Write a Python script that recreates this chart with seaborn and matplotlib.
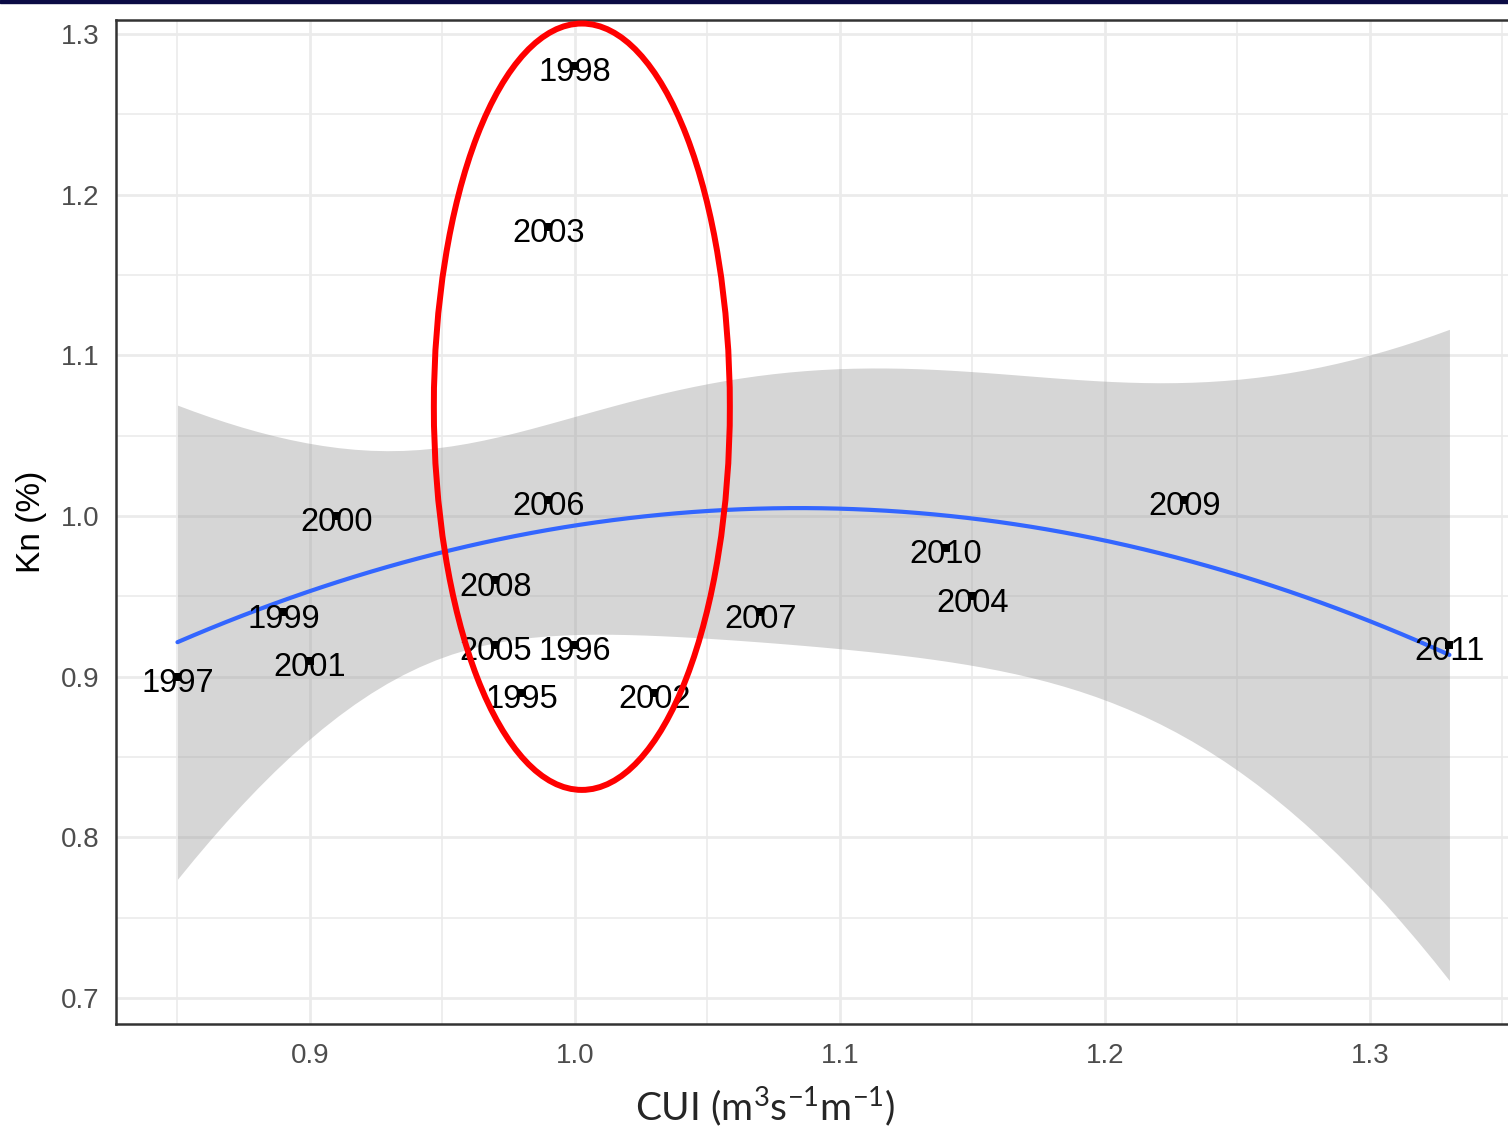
import numpy as np
import pandas as pd
import matplotlib
matplotlib.use("Agg")
import matplotlib.pyplot as plt
import seaborn as sns
from matplotlib.patches import Ellipse, Rectangle

# ---------------- data ----------------
years = ["1995", "1996", "1997", "1998", "1999", "2000", "2001", "2002", "2003",
         "2004", "2005", "2006", "2007", "2008", "2009", "2010", "2011"]
cui = [0.98, 1.00, 0.85, 1.00, 0.89, 0.91, 0.90, 1.03, 0.99,
       1.15, 0.97, 0.99, 1.07, 0.97, 1.23, 1.14, 1.33]
kn = [0.89, 0.92, 0.90, 1.28, 0.94, 1.00, 0.91, 0.89, 1.18,
      0.95, 0.92, 1.01, 0.94, 0.96, 1.01, 0.98, 0.92]
x_ticks = [0.9, 1.0, 1.1, 1.2, 1.3]
y_ticks = [0.7, 0.8, 0.9, 1.0, 1.1, 1.2, 1.3]

df = pd.DataFrame({"year": years, "cui": cui, "kn": kn})


# ---------------- quadratic least-squares smooth with 95% CI ----------------
def t_quant(p, dof):
    try:
        from scipy.stats import t as tdist
        return tdist.ppf(p, dof)
    except Exception:
        z = 1.959963984540054
        return (z + (z ** 3 + z) / (4 * dof)
                + (5 * z ** 5 + 16 * z ** 3 + 3 * z) / (96 * dof ** 2)
                + (3 * z ** 7 + 19 * z ** 5 + 17 * z ** 3 - 15 * z) / (384 * dof ** 3))


def quad_smooth(x, y, xs):
    x = np.asarray(x, float)
    y = np.asarray(y, float)
    X = np.column_stack([np.ones_like(x), x, x ** 2])
    beta, *_ = np.linalg.lstsq(X, y, rcond=None)
    res = y - X @ beta
    dof = len(x) - 3
    s2 = res @ res / dof
    XtXi = np.linalg.inv(X.T @ X)
    Xs = np.column_stack([np.ones_like(xs), xs, xs ** 2])
    fit = Xs @ beta
    se = np.sqrt(s2 * np.einsum("ij,jk,ik->i", Xs, XtXi, Xs))
    return fit, se, dof


xs = np.linspace(min(cui), max(cui), 80)
fit, se, dof = quad_smooth(cui, kn, xs)
tq = t_quant(0.975, dof)
smooth = pd.DataFrame({"x": xs, "fit": fit, "lo": fit - tq * se, "hi": fit + tq * se})

# ---------------- figure ----------------
sns.set_theme(style="white")
plt.rcParams["font.family"] = ["Liberation Sans", "DejaVu Sans"]

W, H = 1508, 1133
fig = plt.figure(figsize=(W / 100, H / 100), dpi=100)
ax = fig.add_axes([116 / W, 1 - 1024 / H, (W - 116) / W, (1024 - 20) / H])

ax.set_xlim(0.8268, 1.3521)
ax.set_ylim(0.6838, 1.3087)

ax.set_xticks(x_ticks)
ax.set_yticks(y_ticks)
ax.set_xticks(np.arange(0.85, 1.36, 0.1), minor=True)
ax.set_yticks(np.arange(0.75, 1.26, 0.1), minor=True)
ax.set_xticklabels([f"{v:.1f}" for v in x_ticks])
ax.set_yticklabels([f"{v:.1f}" for v in y_ticks])

ax.grid(True, which="major", color="#EBEBEB", lw=2.0)
ax.grid(True, which="minor", color="#EBEBEB", lw=1.2)
ax.set_axisbelow(True)

ax.tick_params(axis="both", which="major", direction="out", length=6, width=1.5,
               color="#333333", labelcolor="#4D4D4D", labelsize=20)
ax.tick_params(axis="x", which="major", pad=8)
ax.tick_params(axis="y", which="major", pad=6)
ax.tick_params(axis="both", which="minor", length=0)

for side in ["left", "bottom", "top"]:
    ax.spines[side].set_color("#333333")
    ax.spines[side].set_linewidth(1.8)
ax.spines["right"].set_visible(False)

# confidence band + smooth line
ax.fill_between(smooth["x"], smooth["lo"], smooth["hi"], color="#999999", alpha=0.4,
                lw=0, zorder=1)
sns.lineplot(data=smooth, x="x", y="fit", color="#3366FF", lw=3.0, ax=ax, zorder=2)

# points
sns.scatterplot(data=df, x="cui", y="kn", marker="s", color="black", s=36,
                linewidth=0, ax=ax, zorder=3)

# labels
for _, r in df.iterrows():
    ax.annotate(r["year"], (r["cui"], r["kn"]), xytext=(0, -11),
                textcoords="offset points", ha="center", va="baseline",
                fontsize=23.5, color="black", zorder=4)

# red ellipse highlight
ax.add_patch(Ellipse((1.0026, 1.068), 0.1117, 0.477, fill=False, ec="#FF0000",
                     lw=4.3, zorder=6, clip_on=False))

ax.set_xlabel("")
ax.set_ylabel("Kn (%)", fontsize=24, color="black", labelpad=10)

fig.text(765 / W, 1 - 1107 / H, r"CUI (m$^{\mathregular{3}}$s$^{\mathregular{-1}}$m$^{\mathregular{-1}}$)",
         ha="center", va="center", fontsize=28, family=["Lato", "DejaVu Sans"])

# navy strip at top
fig.patches.append(Rectangle((0, 1 - 3 / H), 1, 3 / H, transform=fig.transFigure,
                             color="#0B0B45", zorder=10))

fig.savefig("out.png", dpi=100)
